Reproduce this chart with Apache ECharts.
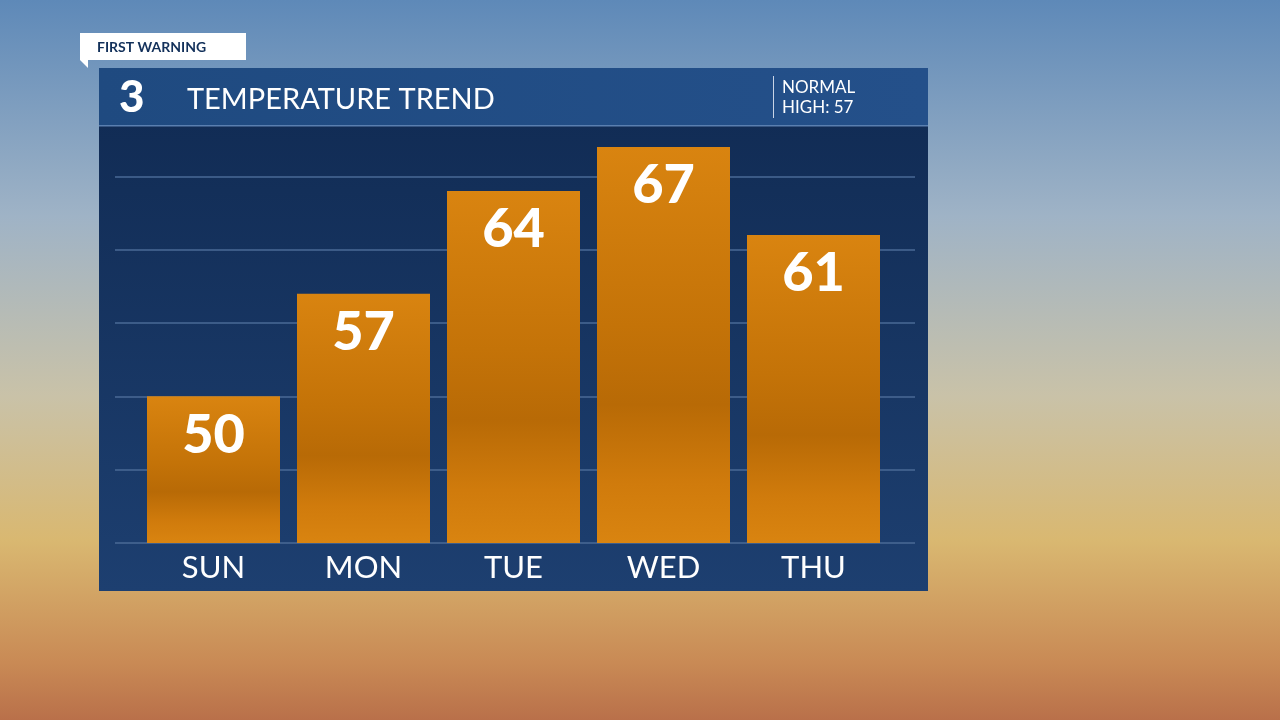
<!DOCTYPE html>
<html><head><meta charset="utf-8">
<script src="https://cdn.jsdelivr.net/npm/echarts@6/dist/echarts.min.js"></script>
<style>
html,body{margin:0;padding:0;width:1280px;height:720px;overflow:hidden;
background:linear-gradient(180deg,#5e89b8 0%,#9fb3c6 30%,#c9c2a8 55%,#d9b871 75%,#c98a55 92%,#b9704a 100%);}
#c{width:1280px;height:720px;}
</style></head><body><div id="c"></div>
<script>
const categories=['SUN','MON','TUE','WED','THU'];
const highs=[50,57,64,67,61];
const yMin=40,yMax=70,yStep=5;
const chart=echarts.init(document.getElementById('c'));
const barColor={type:'linear',x:0,y:0,x2:0,y2:1,colorStops:[
 {offset:0,color:'#d98410'},{offset:0.45,color:'#c47308'},{offset:0.65,color:'#b86a06'},{offset:0.85,color:'#d07b0c'},{offset:1,color:'#d98410'}]};
chart.setOption({
 graphic:[
  {type:'rect',z:0,shape:{x:99,y:68,width:829,height:523},style:{fill:{type:'linear',x:0,y:0,x2:0,y2:1,colorStops:[{offset:0,color:'#102a52'},{offset:1,color:'#1d3f70'}]}}},
  {type:'rect',z:100,shape:{x:99,y:68,width:829,height:58},style:{fill:{type:'linear',x:0,y:0,x2:1,y2:0,colorStops:[{offset:0,color:'#1f4a80'},{offset:1,color:'#24508a'}]}}},
  {type:'rect',z:100,shape:{x:99,y:125,width:829,height:1.5},style:{fill:'#5a7fb0'}},
  {type:'text',z:101,style:{x:119,y:98,text:'3',fill:'#fff',font:'900 44px Lato',verticalAlign:'middle'}},
  {type:'text',z:101,style:{x:187,y:100,text:'TEMPERATURE TREND',fill:'#fff',font:'29px Lato',verticalAlign:'middle'}},
  {type:'rect',z:101,shape:{x:773,y:76,width:1,height:42},style:{fill:'#c8d4e6'}},
  {type:'text',z:101,style:{x:782,y:88,text:'NORMAL',fill:'#fff',font:'17px Lato',verticalAlign:'middle'}},
  {type:'text',z:101,style:{x:782,y:108,text:'HIGH: 57',fill:'#fff',font:'17px Lato',verticalAlign:'middle'}},
  {type:'polygon',z:101,shape:{points:[[80,33],[246,33],[246,60],[88,60],[88,68],[80,60]]},style:{fill:'#fff'}},
  {type:'text',z:102,style:{x:97,y:47,text:'FIRST WARNING',fill:'#12305a',font:'bold 14px Lato',verticalAlign:'middle'}}
 ],
 grid:[{left:138.5,right:391.5,top:103,bottom:177},{left:115,right:365,top:103,bottom:177}],
 xAxis:[
  {type:'category',data:categories,gridIndex:0,axisLine:{show:false},axisTick:{show:false},
   axisLabel:{color:'#fff',fontSize:31,fontFamily:'Lato',margin:9}},
  {type:'value',gridIndex:1,show:false,min:0,max:1}],
 yAxis:[
  {type:'value',gridIndex:0,min:yMin,max:yMax,interval:yStep,axisLabel:{show:false},axisTick:{show:false},splitLine:{show:false},axisLine:{show:false}},
  {type:'value',gridIndex:1,min:yMin,max:yMax,interval:yStep,axisLabel:{show:false},axisTick:{show:false},axisLine:{show:false},
   splitLine:{show:true,lineStyle:{color:'#4a6a96',width:1.5}}}],
 series:[{type:'bar',data:highs,barWidth:133,z:5,itemStyle:{color:barColor},
  label:{show:true,position:'insideTop',distance:12,color:'#fff',fontSize:54,fontWeight:900,fontFamily:'Lato'}}]
});
</script></body></html>
